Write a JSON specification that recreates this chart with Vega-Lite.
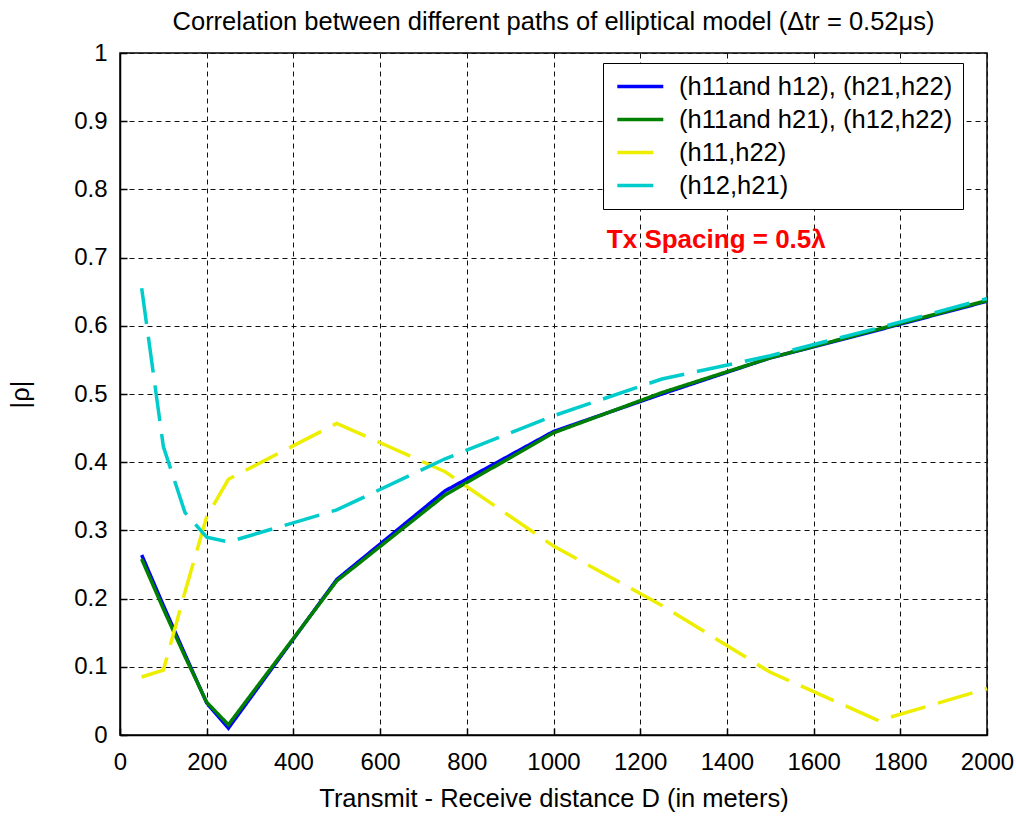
{
  "$schema": "https://vega.github.io/schema/vega-lite/v6.json",
  "width": 867,
  "height": 682,
  "autosize": {"type": "none"},
  "padding": {"left": 120, "top": 53, "right": 29, "bottom": 84},
  "background": "white",
  "title": {"text": "Correlation between different paths of elliptical model (Δtr = 0.52μs)", "fontSize": 25.5, "font": "Liberation Sans", "fontWeight": "normal", "color": "black", "offset": 6, "anchor": "middle"},
  "config": {
    "view": {"stroke": "black", "strokeWidth": 1.5},
    "axis": {
      "grid": true, "gridDash": [5, 4], "gridColor": "#111111", "gridWidth": 1, "gridOpacity": 1,
      "domain": true, "domainColor": "black", "domainWidth": 1.5,
      "ticks": true, "tickSize": -7, "tickColor": "black", "tickWidth": 1.5,
      "labelFlush": false,
      "labelFont": "Liberation Sans", "labelFontSize": 24, "labelColor": "black",
      "titleFont": "Liberation Sans", "titleFontSize": 25.5, "titleFontWeight": "normal", "titleColor": "black"
    },
    "legend": {
      "orient": "none", "legendX": 483, "legendY": 10,
      "strokeColor": "black", "fillColor": "white", "padding": 10,
      "labelFont": "Liberation Sans", "labelFontSize": 25.5, "labelColor": "black",
      "symbolType": "M-0.8,0H3.2", "symbolSize": 529, "rowPadding": 6, "labelOffset": 39, "labelLimit": 400
    }
  },
  "datasets": {
    "lines": [
      {"series": "(h11and h12), (h21,h22)", "D": 50, "v": 0.264},
      {"series": "(h11and h12), (h21,h22)", "D": 100, "v": 0.19},
      {"series": "(h11and h12), (h21,h22)", "D": 150, "v": 0.118},
      {"series": "(h11and h12), (h21,h22)", "D": 200, "v": 0.047},
      {"series": "(h11and h12), (h21,h22)", "D": 250, "v": 0.01},
      {"series": "(h11and h12), (h21,h22)", "D": 500, "v": 0.228},
      {"series": "(h11and h12), (h21,h22)", "D": 750, "v": 0.358},
      {"series": "(h11and h12), (h21,h22)", "D": 1000, "v": 0.445},
      {"series": "(h11and h12), (h21,h22)", "D": 1250, "v": 0.5},
      {"series": "(h11and h12), (h21,h22)", "D": 1500, "v": 0.553},
      {"series": "(h11and h12), (h21,h22)", "D": 1750, "v": 0.594},
      {"series": "(h11and h12), (h21,h22)", "D": 2000, "v": 0.636},
      {"series": "(h11and h21), (h12,h22)", "D": 50, "v": 0.258},
      {"series": "(h11and h21), (h12,h22)", "D": 100, "v": 0.185},
      {"series": "(h11and h21), (h12,h22)", "D": 150, "v": 0.115},
      {"series": "(h11and h21), (h12,h22)", "D": 200, "v": 0.048},
      {"series": "(h11and h21), (h12,h22)", "D": 250, "v": 0.015},
      {"series": "(h11and h21), (h12,h22)", "D": 500, "v": 0.226},
      {"series": "(h11and h21), (h12,h22)", "D": 750, "v": 0.352},
      {"series": "(h11and h21), (h12,h22)", "D": 1000, "v": 0.443},
      {"series": "(h11and h21), (h12,h22)", "D": 1250, "v": 0.502},
      {"series": "(h11and h21), (h12,h22)", "D": 1500, "v": 0.553},
      {"series": "(h11and h21), (h12,h22)", "D": 1750, "v": 0.595},
      {"series": "(h11and h21), (h12,h22)", "D": 2000, "v": 0.637},
      {"series": "(h11,h22)", "D": 50, "v": 0.085},
      {"series": "(h11,h22)", "D": 100, "v": 0.095},
      {"series": "(h11,h22)", "D": 150, "v": 0.21},
      {"series": "(h11,h22)", "D": 200, "v": 0.32},
      {"series": "(h11,h22)", "D": 250, "v": 0.375},
      {"series": "(h11,h22)", "D": 500, "v": 0.457},
      {"series": "(h11,h22)", "D": 750, "v": 0.386},
      {"series": "(h11,h22)", "D": 1000, "v": 0.277},
      {"series": "(h11,h22)", "D": 1250, "v": 0.19},
      {"series": "(h11,h22)", "D": 1500, "v": 0.092},
      {"series": "(h11,h22)", "D": 1750, "v": 0.021},
      {"series": "(h11,h22)", "D": 2000, "v": 0.068},
      {"series": "(h12,h21)", "D": 50, "v": 0.655},
      {"series": "(h12,h21)", "D": 100, "v": 0.423},
      {"series": "(h12,h21)", "D": 150, "v": 0.326},
      {"series": "(h12,h21)", "D": 200, "v": 0.29},
      {"series": "(h12,h21)", "D": 250, "v": 0.283},
      {"series": "(h12,h21)", "D": 500, "v": 0.33},
      {"series": "(h12,h21)", "D": 750, "v": 0.405},
      {"series": "(h12,h21)", "D": 1000, "v": 0.468},
      {"series": "(h12,h21)", "D": 1250, "v": 0.522},
      {"series": "(h12,h21)", "D": 1500, "v": 0.556},
      {"series": "(h12,h21)", "D": 1750, "v": 0.597},
      {"series": "(h12,h21)", "D": 2000, "v": 0.64}
    ],
    "note": [
      {"D": 1123, "v": 0.726, "label": "Tx Spacing = 0.5λ"}
    ]
  },
  "layer": [
    {
      "data": {"name": "lines"},
      "transform": [{"filter": "datum.series === '(h11and h12), (h21,h22)'"}],
      "mark": {"type": "line"},
      "encoding": {
        "x": {"field": "D", "type": "quantitative", "scale": {"domain": [0, 2000], "nice": false}, "axis": {"values": [0, 200, 400, 600, 800, 1000, 1200, 1400, 1600, 1800, 2000], "format": "d", "labelPadding": 22, "title": "Transmit - Receive distance D (in meters)", "titlePadding": 12}},
        "y": {"field": "v", "type": "quantitative", "scale": {"domain": [0, 1], "nice": false}, "axis": {"values": [0, 0.1, 0.2, 0.3, 0.4, 0.5, 0.6, 0.7, 0.8, 0.9, 1], "format": ".1~f", "labelPadding": 20, "title": "|ρ|", "titlePadding": 40}},
        "color": {"field": "series", "type": "nominal", "scale": {"domain": ["(h11and h12), (h21,h22)", "(h11and h21), (h12,h22)", "(h11,h22)", "(h12,h21)"], "range": ["#0000FF", "#008000", "#EEEE00", "#00CCCC"]}, "legend": {"title": null}},
        "strokeWidth": {"field": "series", "type": "nominal", "scale": {"domain": ["(h11and h12), (h21,h22)", "(h11and h21), (h12,h22)", "(h11,h22)", "(h12,h21)"], "range": [3.5, 3.5, 1.2, 1.2]}, "legend": {"title": null}},
        "strokeDash": {"field": "series", "type": "nominal", "scale": {"domain": ["(h11and h12), (h21,h22)", "(h11and h21), (h12,h22)", "(h11,h22)", "(h12,h21)"], "range": [[1, 0], [1, 0], [36, 13], [36, 13]]}, "legend": {"title": null}}
      }
    },
    {
      "data": {"name": "lines"},
      "transform": [{"filter": "datum.series === '(h11and h21), (h12,h22)'"}],
      "mark": {"type": "line"},
      "encoding": {
        "x": {"field": "D", "type": "quantitative"},
        "y": {"field": "v", "type": "quantitative"},
        "color": {"field": "series", "type": "nominal"},
        "strokeWidth": {"field": "series", "type": "nominal"},
        "strokeDash": {"field": "series", "type": "nominal"}
      }
    },
    {
      "data": {"name": "lines"},
      "transform": [{"filter": "datum.series === '(h11,h22)'"}],
      "mark": {"type": "line"},
      "encoding": {
        "x": {"field": "D", "type": "quantitative"},
        "y": {"field": "v", "type": "quantitative"},
        "color": {"field": "series", "type": "nominal"},
        "strokeWidth": {"field": "series", "type": "nominal"},
        "strokeDash": {"field": "series", "type": "nominal"}
      }
    },
    {
      "data": {"name": "lines"},
      "transform": [{"filter": "datum.series === '(h12,h21)'"}],
      "mark": {"type": "line"},
      "encoding": {
        "x": {"field": "D", "type": "quantitative"},
        "y": {"field": "v", "type": "quantitative"},
        "color": {"field": "series", "type": "nominal"},
        "strokeWidth": {"field": "series", "type": "nominal"},
        "strokeDash": {"field": "series", "type": "nominal"}
      }
    },
    {
      "data": {"name": "note"},
      "mark": {"type": "text", "align": "left", "baseline": "middle", "font": "Liberation Sans", "fontSize": 26, "fontWeight": "bold", "color": "#FF0000"},
      "encoding": {
        "x": {"field": "D", "type": "quantitative"},
        "y": {"field": "v", "type": "quantitative"},
        "text": {"field": "label", "type": "nominal"}
      }
    }
  ]
}
